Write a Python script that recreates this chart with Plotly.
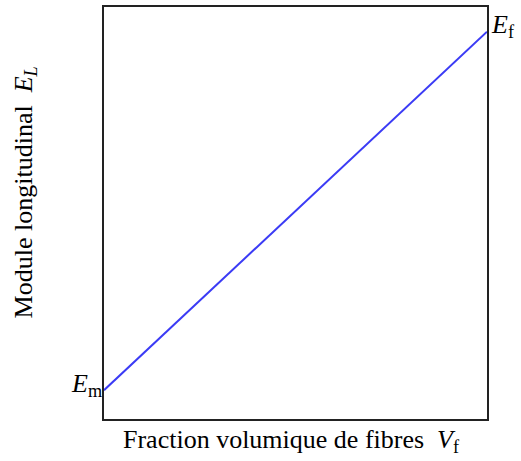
import plotly.graph_objects as go

# Data
fraction_vf = [0.0, 1.0]
module_el = [0.07, 0.94]
label_em = "<i>E</i><sub>m</sub>"
label_ef = "<i>E</i><sub>f</sub>"
x_title = "Fraction volumique de fibres  <i>V</i><sub>f</sub>"
y_title = "Module longitudinal  <i>E</i><sub><i>L</i></sub>"

FONT = "Liberation Serif"
FS = 26

fig = go.Figure()
fig.add_trace(go.Scatter(x=fraction_vf, y=module_el, mode="lines",
                         line=dict(color="#3b3bf5", width=2), hoverinfo="skip"))

axis_common = dict(showgrid=False, zeroline=False, showticklabels=False, ticks="",
                   showline=True, mirror=True, linecolor="#222222", linewidth=1.5)
fig.update_xaxes(range=[0, 1], **axis_common)
fig.update_yaxes(range=[0, 1], **axis_common)

fig.add_annotation(x=fraction_vf[0], y=module_el[0], xref="x", yref="y", text=label_em,
                   showarrow=False, xanchor="right", yanchor="middle", yshift=5, xshift=0,
                   font=dict(family=FONT, size=FS, color="black"))
fig.add_annotation(x=fraction_vf[1], y=module_el[1], xref="x", yref="y", text=label_ef,
                   showarrow=False, xanchor="left", yanchor="middle", yshift=6, xshift=2,
                   font=dict(family=FONT, size=FS, color="black"))
fig.add_annotation(x=0.5, y=0, xref="paper", yref="paper", text=x_title, showarrow=False,
                   xanchor="center", yanchor="top", yshift=-4, xshift=-4,
                   font=dict(family=FONT, size=FS, color="black"))
fig.add_annotation(x=0, y=0.55, xref="paper", yref="paper", text=y_title, showarrow=False,
                   textangle=-90, xanchor="center", yanchor="middle", xshift=-79,
                   font=dict(family=FONT, size=FS, color="black"))

fig.update_layout(width=521, height=461, showlegend=False,
                  margin=dict(l=104, r=34, t=5, b=42),
                  paper_bgcolor="white", plot_bgcolor="white")

fig.write_html("out.html", config={"displayModeBar": False},
               post_script="document.body.style.margin='0';")
